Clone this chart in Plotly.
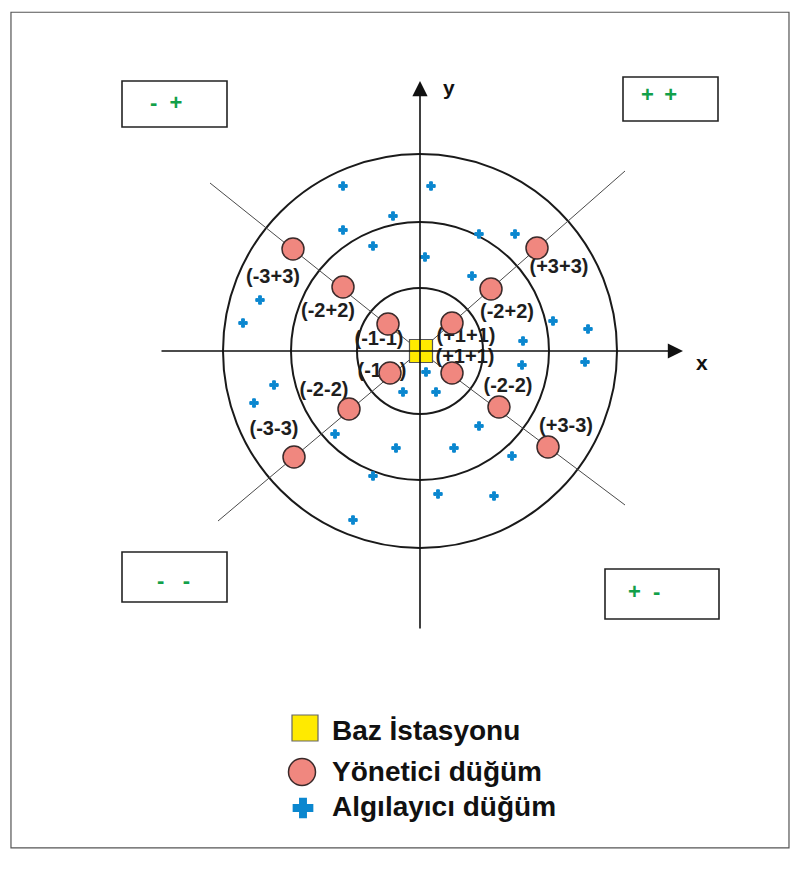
import plotly.graph_objects as go

# ---- data (chart coordinates, origin = base station, y up) ----
ring_radii = [63, 129, 197]

diag_ends_x = [-210, 205, 205, -202]
diag_ends_y = [168, 180, -154, -170]

manager_x = [-127, -77, -32, -30, -71, -126, 32, 71, 117, 32, 79, 128]
manager_y = [102, 64, 27, -22, -58, -106, 28, 62, 103, -22, -56, -96]

label_text = ["(-3+3)", "(-2+2)", "(-1-1)", "(-1-1)", "(-2-2)", "(-3-3)",
              "(+1+1)", "(+1+1)", "(-2+2)", "(+3+3)", "(-2-2)", "(+3-3)"]
label_x = [-147, -92, -41, -38, -96, -146, 46, 45, 87, 139, 88, 146]
label_y = [73, 39, 11, -21, -40, -79, 14, -7, 38, 83, -36, -76]

sensor_x = [-77, 11, -27, -77, -47, 5, 59, 95, 52, -160, -177, 133, 168, 103,
            102, 165, 6, -146, -166, -17, 16, -85, -24, 59, 34, 92, -47, 18, 74, -67]
sensor_y = [165, 165, 135, 121, 105, 94, 117, 117, 75, 51, 28, 30, 22, 10,
            -14, -11, -21, -34, -52, -41, -41, -83, -97, -75, -97, -105, -125, -143, -145, -169]

base_x, base_y = 1, 0

quad_text = ["-\u00a0\u00a0+", "+\u00a0\u2009+", "-\u00a0\u00a0\u00a0-", "+\u00a0\u00a0-"]
quad_box_x0 = [-298, 203, -298, 185]
quad_box_x1 = [-193, 298, -193, 299]
quad_box_y0 = [224, 230, -251, -268]
quad_box_y1 = [270, 274, -201, -218]
quad_text_x = [-254, 239, -247, 224]
quad_text_y = [249, 257, -229, -240]

legend_text = ["Baz İstasyonu", "Yönetici düğüm", "Algılayıcı düğüm"]
legend_sym_x = [-115, -118, -117]
legend_sym_y = [-377, -421, -457]
legend_text_y = [-379, -420, -455]
legend_text_x = -90

axis_x_from, axis_x_to = -260, 263
axis_y_from, axis_y_to = -279, 270

# ---- styles ----
FONT = "Liberation Sans, Arial, sans-serif"
NODE_FILL = "#F0877F"
SENSOR_BLUE = "#0B87CF"
YELLOW = "#FFEA00"
GREEN = "#12A04A"

fig = go.Figure()
shapes = []
annotations = []

# outer frame
shapes.append(dict(type="rect", xref="paper", yref="paper", x0=0.0137, x1=0.985,
                   y0=0.032, y1=0.986, line=dict(color="#555", width=1.2), layer="below"))

# rings
for r in ring_radii:
    shapes.append(dict(type="circle", x0=-r, x1=r, y0=-r, y1=r,
                       line=dict(color="#1a1a1a", width=2), layer="below"))

# diagonal lines from base station
for ex, ey in zip(diag_ends_x, diag_ends_y):
    shapes.append(dict(type="line", x0=0, y0=0, x1=ex, y1=ey,
                       line=dict(color="#4a4a4a", width=1), layer="below"))

# quadrant boxes
for i in range(4):
    shapes.append(dict(type="rect", x0=quad_box_x0[i], x1=quad_box_x1[i],
                       y0=quad_box_y0[i], y1=quad_box_y1[i],
                       line=dict(color="#222", width=1.6), layer="below"))
    annotations.append(dict(x=quad_text_x[i], y=quad_text_y[i], text="<b>" + quad_text[i] + "</b>",
                            showarrow=False, font=dict(family=FONT, size=22, color=GREEN)))

# axes arrows
annotations.append(dict(x=axis_x_to, y=0, ax=axis_x_from, ay=0, xref="x", yref="y",
                        axref="x", ayref="y", showarrow=True, arrowhead=2, arrowsize=1.9,
                        arrowwidth=1.6, arrowcolor="#111", text=""))
annotations.append(dict(x=0, y=axis_y_to, ax=0, ay=axis_y_from, xref="x", yref="y",
                        axref="x", ayref="y", showarrow=True, arrowhead=2, arrowsize=1.9,
                        arrowwidth=1.6, arrowcolor="#111", text=""))
annotations.append(dict(x=282, y=-11, text="<b>x</b>", showarrow=False,
                        font=dict(family=FONT, size=21, color="#111")))
annotations.append(dict(x=29, y=264, text="<b>y</b>", showarrow=False,
                        font=dict(family=FONT, size=21, color="#111")))

# sensors
fig.add_trace(go.Scatter(x=sensor_x, y=sensor_y, mode="markers",
                         marker=dict(symbol="cross", size=7, color=SENSOR_BLUE,
                                     line=dict(width=1, color=SENSOR_BLUE)),
                         hoverinfo="skip"))

# labels (drawn below manager nodes)
fig.add_trace(go.Scatter(x=label_x, y=label_y, mode="text",
                         text=["<b>" + t + "</b>" for t in label_text],
                         textfont=dict(family=FONT, size=20, color="#1e1e1e"),
                         hoverinfo="skip"))

# manager nodes
fig.add_trace(go.Scatter(x=manager_x, y=manager_y, mode="markers",
                         marker=dict(symbol="circle", size=22, color=NODE_FILL,
                                     line=dict(color="#3a2a2a", width=1.5)),
                         hoverinfo="skip"))

# base station
fig.add_trace(go.Scatter(x=[base_x], y=[base_y], mode="markers",
                         marker=dict(symbol="square", size=23, color=YELLOW,
                                     line=dict(color="#555", width=1.2)),
                         hoverinfo="skip"))

# legend symbols
fig.add_trace(go.Scatter(x=[legend_sym_x[0]], y=[legend_sym_y[0]], mode="markers",
                         marker=dict(symbol="square", size=26, color=YELLOW,
                                     line=dict(color="#666", width=1.2)), hoverinfo="skip"))
fig.add_trace(go.Scatter(x=[legend_sym_x[1]], y=[legend_sym_y[1]], mode="markers",
                         marker=dict(symbol="circle", size=27, color=NODE_FILL,
                                     line=dict(color="#3a2a2a", width=1.5)), hoverinfo="skip"))
fig.add_trace(go.Scatter(x=[legend_sym_x[2]], y=[legend_sym_y[2]], mode="markers",
                         marker=dict(symbol="cross", size=16, color=SENSOR_BLUE,
                                     line=dict(width=1.5, color=SENSOR_BLUE)), hoverinfo="skip"))
for t, yy in zip(legend_text, legend_text_y):
    annotations.append(dict(x=legend_text_x, y=yy, text="<b>" + t + "</b>", showarrow=False,
                            xanchor="left", font=dict(family=FONT, size=28, color="#111")))

fig.update_layout(
    width=801, height=876, autosize=False,
    margin=dict(l=0, r=0, t=0, b=0),
    paper_bgcolor="white", plot_bgcolor="white",
    showlegend=False,
    xaxis=dict(range=[-420, 381], visible=False, fixedrange=True),
    yaxis=dict(range=[-525, 351], visible=False, fixedrange=True),
    shapes=shapes, annotations=annotations,
)

fig.write_html("out.html", config=dict(displayModeBar=False),
               post_script="document.body.style.margin='0';document.body.style.overflow='hidden';")
